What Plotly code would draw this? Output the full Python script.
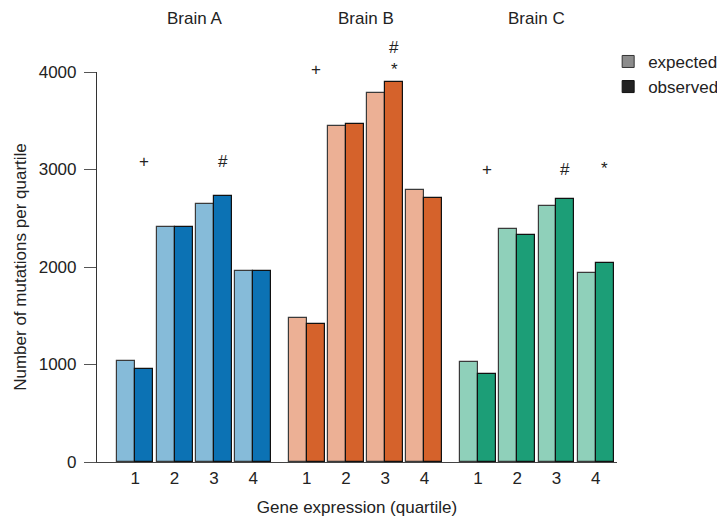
import plotly.graph_objects as go

brains = ["Brain A", "Brain B", "Brain C"]
quartiles = ["1", "2", "3", "4"]
expected_A = [1035, 2410, 2650, 1955]
observed_A = [955, 2407, 2725, 1960]
expected_B = [1480, 3450, 3785, 2785]
observed_B = [1420, 3470, 3895, 2710]
expected_C = [1026, 2390, 2626, 1938]
observed_C = [906, 2332, 2697, 2044]

expected = [expected_A, expected_B, expected_C]
observed = [observed_A, observed_B, observed_C]

light_colors = ["#86bbd9", "#ecb095", "#8fd0ba"]
dark_colors = ["#0c72b4", "#d5622b", "#1c9e77"]

# significance symbols: (brain index, quartile index, symbol, y value)
sig_brain = [0, 0, 1, 1, 1, 2, 2, 2]
sig_quart = [0, 2, 0, 2, 2, 0, 2, 3]
sig_text = ["+", "#", "+", "#", "*", "+", "#", "*"]
sig_y = [3080, 3080, 4030, 4250, 4030, 2995, 2995, 3010]

YMAX = 4000
group_offset = 4.36
bar_w = 0.458
half = 0.229

FONT = "Liberation Sans, Arial, sans-serif"
FS = 17

fig = go.Figure()
tickvals, ticktext = [], []
for b in range(3):
    centers = [b * group_offset + q for q in range(4)]
    tickvals += centers
    ticktext += quartiles
    fig.add_trace(go.Bar(
        x=[c - half for c in centers], y=expected[b], width=bar_w,
        marker=dict(color=light_colors[b], line=dict(color="#3a3a3a", width=1.2)),
        showlegend=False, name="expected"))
    fig.add_trace(go.Bar(
        x=[c + half for c in centers], y=observed[b], width=bar_w,
        marker=dict(color=dark_colors[b], line=dict(color="#111111", width=1.2)),
        showlegend=False, name="observed"))
    fig.add_annotation(x=b * group_offset + 1.5, y=1.138, xref="x", yref="paper",
                       yanchor="middle", text=brains[b], showarrow=False,
                       font=dict(size=FS, color="#222", family=FONT))

for bi, qi, t, yv in zip(sig_brain, sig_quart, sig_text, sig_y):
    fig.add_annotation(x=bi * group_offset + qi + half, y=yv / YMAX, xref="x", yref="paper",
                       yanchor="middle", text=t, showarrow=False,
                       font=dict(size=FS, color="#222", family=FONT))

# legend entries
fig.add_trace(go.Bar(x=[None], y=[None], name="expected",
                     marker=dict(color="#8c8c8c", line=dict(color="#333", width=1))))
fig.add_trace(go.Bar(x=[None], y=[None], name="observed",
                     marker=dict(color="#222222", line=dict(color="#111", width=1))))

fig.update_layout(
    width=717, height=515,
    margin=dict(l=89, r=108, t=64, b=61, autoexpand=False),
    plot_bgcolor="white", paper_bgcolor="white",
    barmode="overlay", bargap=0,
    font=dict(family=FONT, size=FS, color="#222"),
    showlegend=True,
    legend=dict(x=0.983, y=1.072, xanchor="left", yanchor="top",
                font=dict(size=FS, color="#222", family=FONT),
                itemwidth=30, tracegroupgap=0, bgcolor="rgba(0,0,0,0)"),
    xaxis=dict(range=[-0.975, 12.26], tickvals=tickvals, ticktext=ticktext,
               showline=True, linecolor="#444", linewidth=1.2, ticks="",
               showgrid=False, zeroline=False, automargin=False,
               tickfont=dict(size=FS, family=FONT, color="#222"),
               title=dict(text="Gene expression (quartile)", standoff=14,
                          font=dict(size=FS, family=FONT, color="#222"))),
    yaxis=dict(range=[0, YMAX], tickvals=[0, 1000, 2000, 3000, 4000],
               showline=True, linecolor="#333", linewidth=1.2,
               ticks="outside", ticklen=12, tickcolor="#555", tickwidth=1,
               ticklabelstandoff=4,
               showgrid=False, zeroline=False, automargin=False,
               tickfont=dict(size=FS, family=FONT, color="#222"),
               title=dict(text="Number of mutations per quartile", standoff=7,
                          font=dict(size=FS, family=FONT, color="#222"))),
)

fig.write_html("out.html")
